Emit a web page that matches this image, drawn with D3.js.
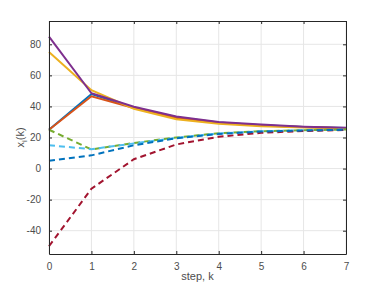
<!DOCTYPE html>
<html>
<head>
<meta charset="utf-8">
<script src="https://cdn.jsdelivr.net/npm/d3@7"></script>
<style>
  body { margin: 0; background: #fff; }
  svg { display: block; font-family: "Liberation Sans", Arial, sans-serif; }
</style>
</head>
<body>
<div id="chart"></div>
<script>
// steps and the state of each agent at each step
const steps = [0, 1, 2, 3, 4, 5, 6, 7]
const xBlue = [25, 48, 39.3, 33, 29.6, 27.9, 26.8, 26.1]
const xOrange = [25, 46.5, 39, 32.5, 29.3, 27.7, 26.7, 26]
const xYellow = [75, 50.5, 38.5, 31.8, 28.8, 27.2, 26.5, 26]
const xPurple = [85, 48.5, 39.8, 33.5, 30, 28.3, 27, 26.2]
const xGreen = [25, 12.3, 16.5, 20, 22.8, 24, 24.7, 25.1]
const xLightBlue = [15, 12.5, 16.2, 19.7, 22.6, 24, 24.6, 25]
const xRed = [-50, -13, 6, 15.5, 20.5, 23, 24.2, 24.8]
const xDarkBlue = [5, 8.5, 15, 19.5, 22.3, 23.8, 24.5, 25]

const xTicks = [0, 1, 2, 3, 4, 5, 6, 7]
const yTicks = [-40, -20, 0, 20, 40, 60, 80]

// order matters: last drawn sits on top
const series = [
  {values: xBlue, color: '#0072BD', dashed: false},
  {values: xOrange, color: '#D95319', dashed: false},
  {values: xYellow, color: '#EDB120', dashed: false},
  {values: xPurple, color: '#7E2F8E', dashed: false},
  {values: xGreen, color: '#77AC30', dashed: true},
  {values: xLightBlue, color: '#4DBEEE', dashed: true},
  {values: xRed, color: '#A2142F', dashed: true},
  {values: xDarkBlue, color: '#0072BD', dashed: true}
]

const width = 382, height = 286
const margin = {top: 21, right: 36, bottom: 32, left: 49}
const axisColor = '#262626'

const svg = d3.select('#chart').append('svg')
  .attr('width', width)
  .attr('height', height)

const x = d3.scaleLinear().domain([0, 7]).range([margin.left, width - margin.right])
const y = d3.scaleLinear().domain([-55, 95]).range([height - margin.bottom, margin.top])

// grid
svg.append('g')
  .selectAll('line')
  .data(xTicks)
  .enter()
  .append('line')
  .attr('x1', d => x(d)).attr('x2', d => x(d))
  .attr('y1', y.range()[0]).attr('y2', y.range()[1])
  .attr('stroke', '#e6e6e6').attr('stroke-width', 1)
svg.append('g')
  .selectAll('line')
  .data(yTicks)
  .enter()
  .append('line')
  .attr('x1', x.range()[0]).attr('x2', x.range()[1])
  .attr('y1', d => y(d)).attr('y2', d => y(d))
  .attr('stroke', '#e6e6e6').attr('stroke-width', 1)

// lines
const line = d3.line()
  .x((d, i) => x(steps[i]))
  .y(d => y(d))

svg.append('g')
  .selectAll('path')
  .data(series)
  .enter()
  .append('path')
  .attr('d', d => line(d.values))
  .attr('fill', 'none')
  .attr('stroke', d => d.color)
  .attr('stroke-width', 2)
  .attr('stroke-dasharray', d => d.dashed ? '6,4' : null)

// box axes, ticks inward
const styleAxis = (g) => {
  g.select('.domain').attr('stroke', axisColor).attr('stroke-width', 1)
  g.selectAll('.tick line').attr('stroke', axisColor)
  g.selectAll('.tick text').attr('fill', '#4d4d4d').attr('font-size', 10)
}
const plain = d => String(d)

svg.append('g')
  .attr('transform', `translate(0,${y.range()[0]})`)
  .call(d3.axisBottom(x).tickValues(xTicks).tickSizeInner(-3).tickSizeOuter(0).tickPadding(9).tickFormat(plain))
  .call(styleAxis)
svg.append('g')
  .attr('transform', `translate(0,${y.range()[1]})`)
  .call(d3.axisTop(x).tickValues(xTicks).tickSizeInner(-3).tickSizeOuter(0).tickFormat(''))
  .call(styleAxis)
svg.append('g')
  .attr('transform', `translate(${x.range()[0]},0)`)
  .call(d3.axisLeft(y).tickValues(yTicks).tickSizeInner(-3).tickSizeOuter(0).tickPadding(8).tickFormat(plain))
  .call(styleAxis)
svg.append('g')
  .attr('transform', `translate(${x.range()[1]},0)`)
  .call(d3.axisRight(y).tickValues(yTicks).tickSizeInner(-3).tickSizeOuter(0).tickFormat(''))
  .call(styleAxis)

// labels
svg.append('text')
  .attr('x', (x.range()[0] + x.range()[1]) / 2)
  .attr('y', 280)
  .attr('text-anchor', 'middle')
  .attr('font-size', 11)
  .attr('fill', '#4d4d4d')
  .text('step, k')

const yl = svg.append('text')
  .attr('transform', `translate(24,${(y.range()[0] + y.range()[1]) / 2}) rotate(-90)`)
  .attr('text-anchor', 'middle')
  .attr('font-size', 11)
  .attr('fill', '#4d4d4d')
yl.append('tspan').text('x')
yl.append('tspan').attr('font-size', 8).attr('dy', 3).text('i')
yl.append('tspan').attr('dy', -3).text('(k)')
</script>
</body>
</html>
